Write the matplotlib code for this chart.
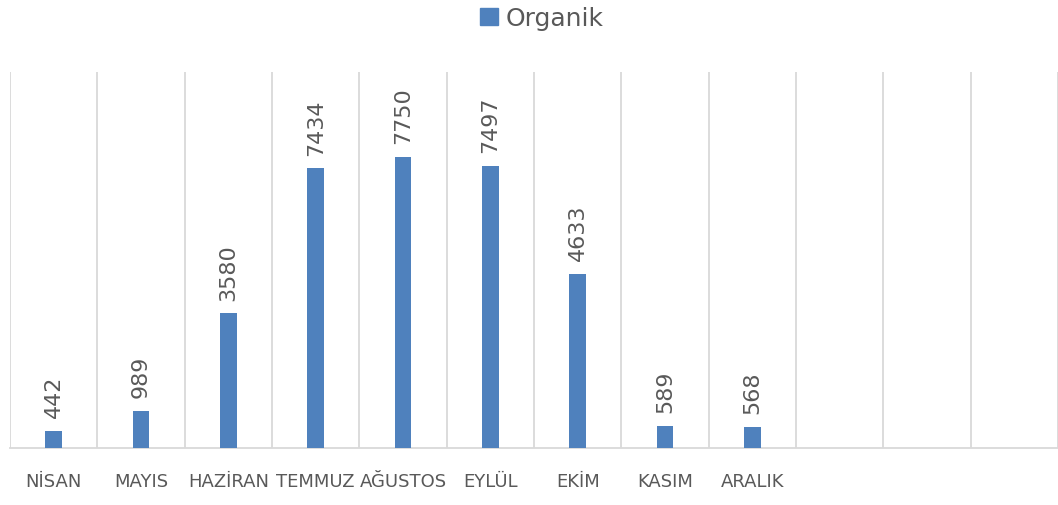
import matplotlib
matplotlib.use("Agg")
import matplotlib.pyplot as plt
from matplotlib.patches import Patch
import numpy as np

categories = ["NİSAN", "MAYIS", "HAZİRAN", "TEMMUZ", "AĞUSTOS", "EYLÜL", "EKİM", "KASIM", "ARALIK", "", "", ""]
values = [442, 989, 3580, 7434, 7750, 7497, 4633, 589, 568]
series_name = "Organik"

bar_color = "#4F81BD"
text_color = "#595959"
grid_color = "#D9D9D9"

W, H = 1058, 506
fig = plt.figure(figsize=(W / 100, H / 100), dpi=100)
ax = fig.add_axes([10 / W, (H - 449) / H, 1048 / W, 376 / H])

x = np.arange(len(values))
bars = ax.bar(x, values, width=0.19, color=bar_color, zorder=3)

ax.set_xlim(-0.5, len(categories) - 0.5)
ax.set_ylim(0, 10000)

for xi, v in zip(x, values):
    ax.annotate(str(v), (xi, v), xytext=(0, 10), textcoords="offset points",
                rotation=90, ha="center", va="bottom", fontsize=16,
                color=text_color, family="DejaVu Sans")

ax.set_xticks(np.arange(len(categories)))
ax.set_xticklabels(categories, fontsize=13, color=text_color)
ax.tick_params(axis="x", length=0, pad=17)
ax.set_xticks(np.arange(-0.5, len(categories)), minor=True)
ax.tick_params(axis="x", which="minor", length=0)
ax.grid(axis="x", which="minor", color=grid_color, linewidth=1.3, zorder=0)
ax.set_yticks([])

for s in ["top", "right", "left"]:
    ax.spines[s].set_visible(False)
ax.spines["bottom"].set_color(grid_color)
ax.spines["bottom"].set_linewidth(1.3)

fig.legend(handles=[Patch(color=bar_color, label=series_name)],
           loc="center", bbox_to_anchor=(0.512, 1 - 19 / H), frameon=False,
           fontsize=18, labelcolor=text_color, handlelength=0.7, handleheight=0.7,
           handletextpad=0.3)

fig.savefig("out.png", dpi=100)
